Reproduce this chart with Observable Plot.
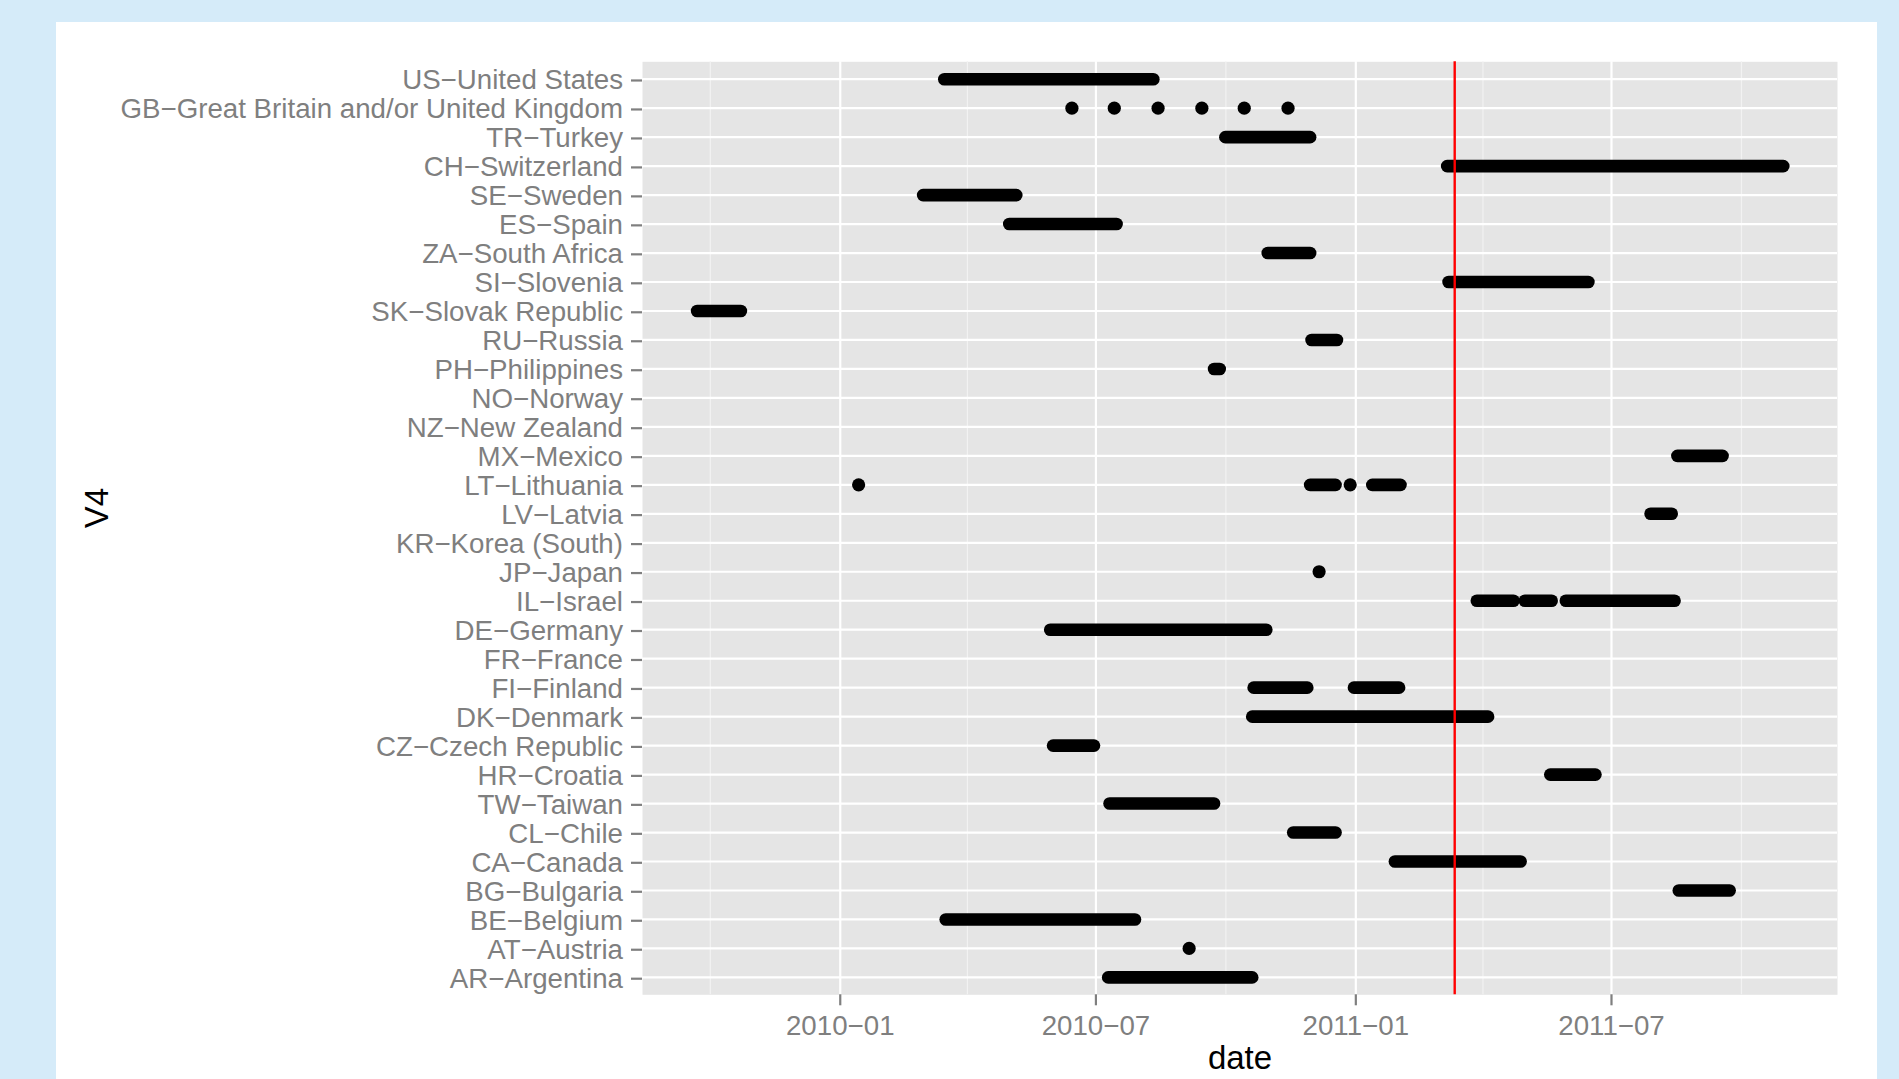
<!DOCTYPE html>
<html>
<head>
<meta charset="utf-8">
<script src="https://cdn.jsdelivr.net/npm/d3@7"></script>
<script src="https://cdn.jsdelivr.net/npm/@observablehq/plot@0.6"></script>
<style>
  html, body { margin: 0; padding: 0; background: #d5ebf9; width: 1899px; height: 1079px; overflow: hidden; }
  #card { position: absolute; left: 56px; top: 22px; width: 1821px; height: 1057px; background: #ffffff; }
  #card svg { display: block; font-family: "Liberation Sans", Arial, Helvetica, sans-serif; }
</style>
</head>
<body>
<div id="card"></div>
<script>
// Categories, top to bottom
const countries = [
  "US−United States", "GB−Great Britain and/or United Kingdom", "TR−Turkey", "CH−Switzerland",
  "SE−Sweden", "ES−Spain", "ZA−South Africa", "SI−Slovenia", "SK−Slovak Republic", "RU−Russia",
  "PH−Philippines", "NO−Norway", "NZ−New Zealand", "MX−Mexico", "LT−Lithuania", "LV−Latvia",
  "KR−Korea (South)", "JP−Japan", "IL−Israel", "DE−Germany", "FR−France", "FI−Finland",
  "DK−Denmark", "CZ−Czech Republic", "HR−Croatia", "TW−Taiwan", "CL−Chile", "CA−Canada",
  "BG−Bulgaria", "BE−Belgium", "AT−Austria", "AR−Argentina"
];

// Runs of consecutive daily observations: [country code, first date, last date]
const runs = [
  ["US", "2010-03-16", "2010-08-11"],
  ["TR", "2010-10-01", "2010-11-30"],
  ["CH", "2011-03-07", "2011-10-31"],
  ["SE", "2010-03-01", "2010-05-06"],
  ["ES", "2010-05-01", "2010-07-16"],
  ["ZA", "2010-10-31", "2010-11-30"],
  ["SI", "2011-03-08", "2011-06-15"],
  ["SK", "2009-09-22", "2009-10-23"],
  ["RU", "2010-12-01", "2010-12-19"],
  ["PH", "2010-09-23", "2010-09-27"],
  ["MX", "2011-08-17", "2011-09-18"],
  ["LT", "2010-11-30", "2010-12-18"],
  ["LT", "2011-01-13", "2011-02-02"],
  ["LV", "2011-07-29", "2011-08-13"],
  ["IL", "2011-03-28", "2011-04-23"],
  ["IL", "2011-05-01", "2011-05-20"],
  ["IL", "2011-05-30", "2011-08-15"],
  ["DE", "2010-05-30", "2010-10-30"],
  ["FI", "2010-10-21", "2010-11-28"],
  ["FI", "2010-12-31", "2011-02-01"],
  ["DK", "2010-10-20", "2011-04-05"],
  ["CZ", "2010-06-01", "2010-06-30"],
  ["HR", "2011-05-19", "2011-06-20"],
  ["TW", "2010-07-11", "2010-09-23"],
  ["CL", "2010-11-18", "2010-12-18"],
  ["CA", "2011-01-29", "2011-04-28"],
  ["BG", "2011-08-18", "2011-09-23"],
  ["BE", "2010-03-17", "2010-07-29"],
  ["AR", "2010-07-10", "2010-10-20"]
];

// Single observations: [country code, date]
const singles = [
  ["GB", "2010-06-14"], ["GB", "2010-07-14"], ["GB", "2010-08-14"],
  ["GB", "2010-09-14"], ["GB", "2010-10-14"], ["GB", "2010-11-14"],
  ["LT", "2010-01-14"], ["LT", "2010-12-28"],
  ["JP", "2010-12-06"],
  ["AT", "2010-09-05"]
];

// Reference date (red line)
const markerDates = ["2011-03-12"];

// Axis ticks
const majorTicks = ["2010-01-01", "2010-07-01", "2011-01-01", "2011-07-01"];
const minorTicks = ["2009-10-01", "2010-04-01", "2010-10-01", "2011-04-01", "2011-10-01"];
const xDomain = ["2009-08-14", "2011-12-08"];

const parse = d3.utcParse("%Y-%m-%d");
const byCode = new Map(countries.map(c => [c.slice(0, 2), c]));
const runRows = runs.map(([c, a, b]) => ({country: byCode.get(c), start: parse(a), end: parse(b)}));
const singleRows = singles.map(([c, a]) => ({country: byCode.get(c), date: parse(a)}));
const fmt = d3.utcFormat("%Y");
const fmtM = d3.utcFormat("%m");

const chart = Plot.plot({
  width: 1821,
  height: 1057,
  marginLeft: 586,
  marginRight: 40,
  marginTop: 39.3,
  marginBottom: 84.7,
  style: {background: "transparent", fontFamily: "'Liberation Sans', Arial, Helvetica, sans-serif"},
  x: {type: "utc", domain: xDomain.map(parse)},
  y: {type: "point", domain: countries, padding: 0.6},
  marks: [
    Plot.frame({fill: "#E5E5E5", stroke: null}),
    Plot.ruleX(minorTicks.map(parse), {stroke: "#F2F2F2", strokeWidth: 1.2}),
    Plot.ruleX(majorTicks.map(parse), {stroke: "#FFFFFF", strokeWidth: 2.2}),
    Plot.ruleY(countries, {stroke: "#FFFFFF", strokeWidth: 2.2}),
    Plot.ruleY(runRows, {y: "country", x1: "start", x2: "end", stroke: "black", strokeWidth: 12.6, strokeLinecap: "round"}),
    Plot.dot(singleRows, {x: "date", y: "country", r: 6.6, fill: "black", stroke: null}),
    Plot.ruleX(markerDates.map(parse), {stroke: "#FF0000", strokeWidth: 2.4}),
    Plot.axisY({
      tickSize: 11, tickPadding: 8.5, fontSize: 27.7, color: "#7F7F7F",
      stroke: "#7F7F7F", strokeWidth: 2.2, label: null, dy: 1.3
    }),
    Plot.axisX(majorTicks.map(parse), {
      tickSize: 11, tickPadding: 10, fontSize: 27.7, color: "#7F7F7F",
      stroke: "#7F7F7F", strokeWidth: 2.2, label: null,
      tickFormat: d => fmt(d) + "−" + fmtM(d)
    }),
    Plot.text(["date"], {frameAnchor: "bottom", dy: 64, lineAnchor: "middle", fontSize: 33, fill: "black"}),
    Plot.text(["V4"], {frameAnchor: "left", dx: -545, rotate: -90, lineAnchor: "middle", fontSize: 33, fill: "black"})
  ]
});
document.getElementById("card").appendChild(chart);
</script>
</body>
</html>
